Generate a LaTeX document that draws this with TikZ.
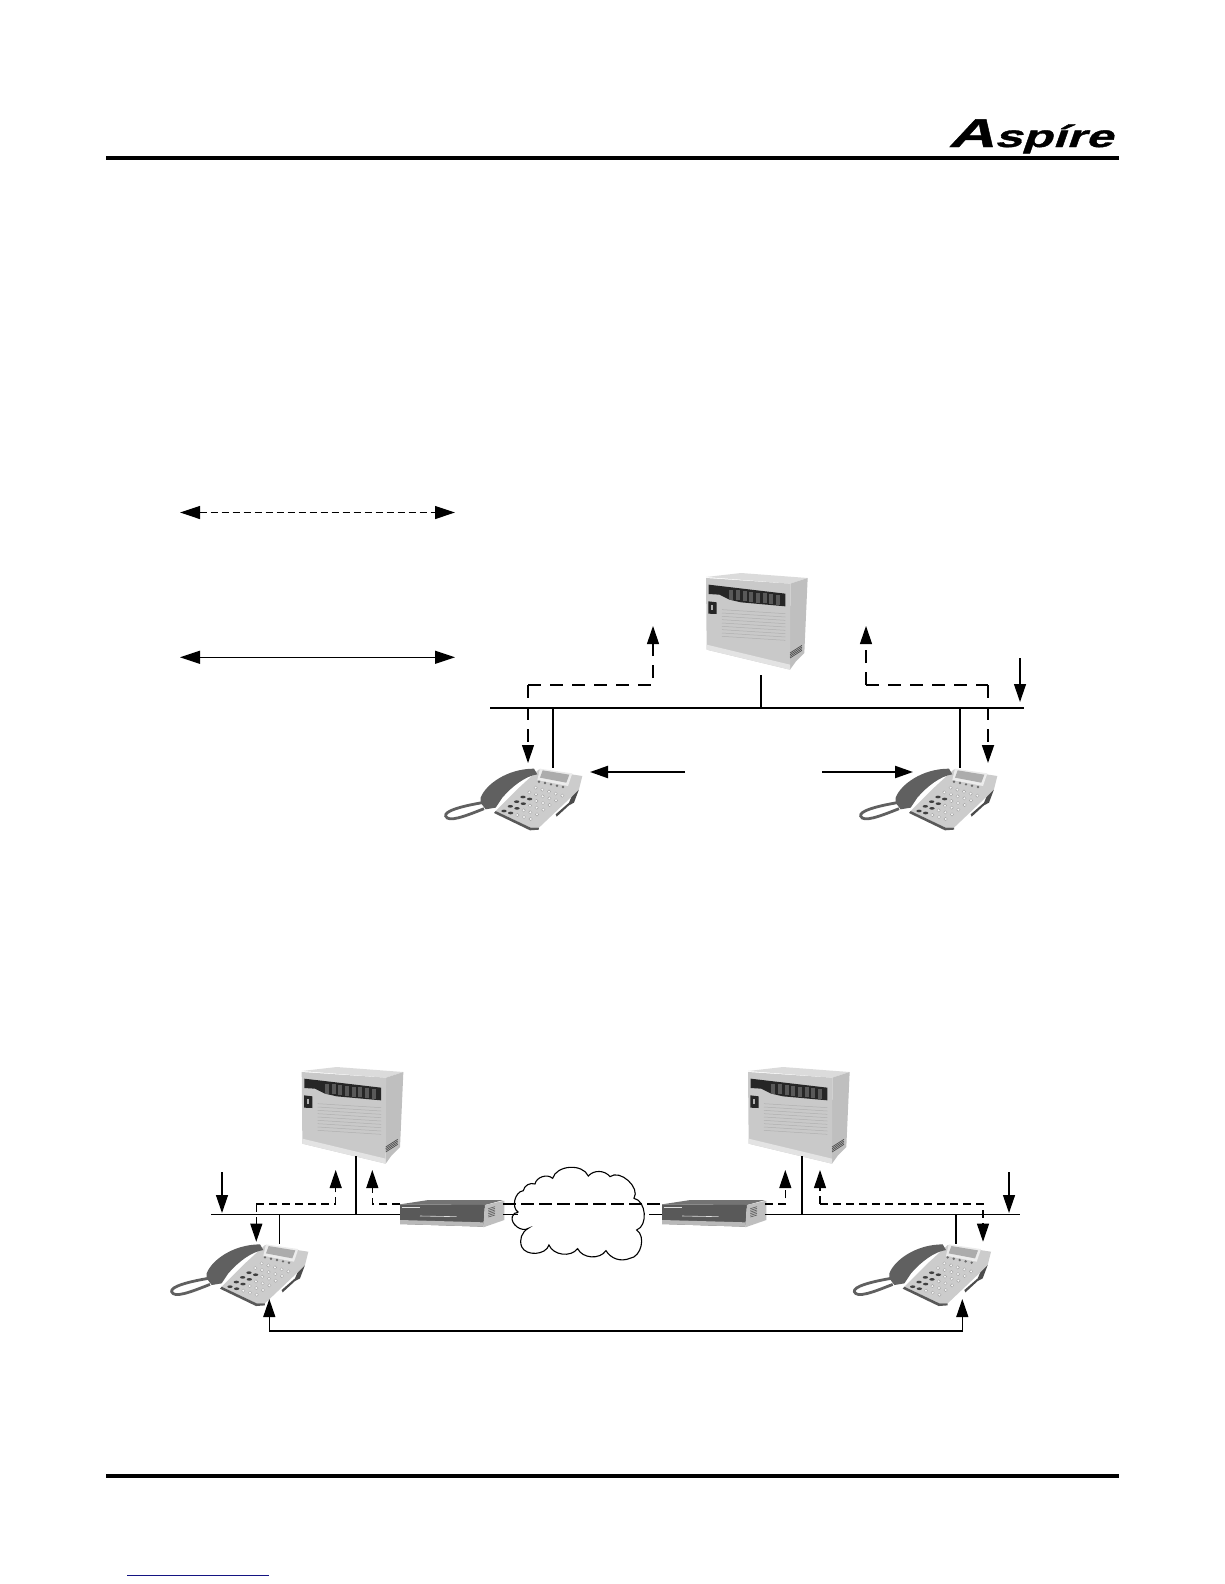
\documentclass[tikz,border=0pt]{standalone}
\usepackage{fontspec}
\setmainfont{Liberation Sans}
\newfontfamily\logofont[FakeStretch=1.6, FakeBold=1.2, FakeSlant=.35]{Liberation Sans}
\usetikzlibrary{arrows.meta}
\usetikzlibrary{positioning}
\definecolor{linkblue}{RGB}{20,20,130}
\tikzset{
  > = {Triangle[length=18pt, width=12pt]},
  bus/.style = {line width = 1.3pt},
  thickbus/.style = {line width = 2.6pt},
  rule/.style = {line width = 4.3pt},
  flow/.style = {->, line width = 1.3pt},
  dashflow/.style = {->, line width = 1.1pt, dash pattern = on 13pt off 9pt},
  dashshort/.style = {->, line width = 1.1pt, dash pattern = on 8pt off 5pt},
  keyarrow/.style = {<->, > = {Triangle[length=20pt, width=13pt]}, line width = 1.2pt},
  cabinet/.pic = {
    \begin{scope}[x=.3333pt, y=-.3333pt]
      \fill [gray!28] (0,12) -- (105,0) -- (305,15) -- (253,32) -- cycle;
      \fill [gray!50] (253,32) -- (305,15) -- (295,240) -- (270,265) -- (252,290) -- cycle;
      \fill [gray!42] (0,15) -- (253,32) -- (252,290) -- (2,230) -- cycle;
      \fill [gray!22] (2,215) -- (252,275) -- (252,290) -- (2,230) -- cycle;
      \foreach \y in {110,120,...,190}
        \draw [gray!62, line width = .5pt] (48,\y) -- (238,\y+12);
      \fill [black!85] (8,35) -- (238,62) -- (238,100) -- (105,88) -- (70,80) -- (40,65) -- (8,63) -- cycle;
      \foreach \x in {70,90,...,225}
        \fill [gray!70!black] (\x,{50+(\x-70)*.11}) rectangle +(12,30);
      \fill [black!85] (7,85) -- (32,88) -- (32,123) -- (7,122) -- cycle;
      \fill [gray!60] (15,97) rectangle (22,110);
      \foreach \d in {0,5,10,15}
        \draw [gray!60!black, line width = .7pt] (252,{255-\d}) -- (288,{232-\d});
    \end{scope}
  },
  telset/.pic = {
    \begin{scope}[x=.3333pt, y=-.3333pt]
      \draw [gray!75!black, line width = 2.8pt] (115,110) .. controls (55,120) and (0,135) .. (5,150)
        .. controls (12,170) and (60,152) .. (120,128);
      \fill [black!70] (335,145) -- (375,110) -- (390,75) -- (405,70) -- (390,110) -- (375,118) -- (338,152) -- cycle;
      \fill [gray!40] (225,65) -- (285,10) -- (415,30) -- (405,70) -- (385,90) -- (285,185) -- (260,185) -- (155,135) -- cycle;
      \fill [gray!70!black] (155,135) -- (260,185) -- (285,185) -- (285,191) -- (258,193) -- (150,141) -- cycle;
      \fill [gray!75!black] (110,95) .. controls (125,55) and (190,8) .. (270,8) -- (280,25)
        .. controls (245,30) and (205,60) .. (175,95) -- (155,125) -- (125,130) -- (110,110) -- cycle;
      \fill [gray!15] (288,8) -- (385,22) -- (372,60) -- (280,42) -- cycle;
      \fill [gray!65] (296,13) -- (376,26) -- (367,50) -- (288,35) -- cycle;
      \foreach \i in {0,...,4}
        \fill [gray!85!black] ({285+18*\i},{47+4*\i}) circle (4);
      \foreach \i in {2,3,4}
        \foreach \j in {0,...,5}
          \fill [gray!5, draw = gray!70, line width = .4pt] ({275+20*\i-19*\j},{65+6*\i+14*\j}) circle (5);
      \foreach \i in {0,1}
        \foreach \j in {0,1}
          \fill [gray!5, draw = gray!70, line width = .4pt] ({275+20*\i-19*\j},{65+6*\i+14*\j}) circle (5);
      \foreach \i in {0,1}
        \foreach \j in {2,...,5}
          \fill [black!75] ({275+20*\i-19*\j},{65+6*\i+14*\j}) ellipse (8 and 4);
    \end{scope}
  },
  gateway/.pic = {
    \begin{scope}[x=.3333pt, y=-.3333pt]
      \fill [gray!90!black] (0,13) -- (85,0) -- (310,0) -- (255,15) -- cycle;
      \fill [gray!70!black] (0,13) -- (255,15) -- (250,80) -- (0,72) -- cycle;
      \fill [gray!55] (0,60) -- (250,67) -- (250,80) -- (0,72) -- cycle;
      \fill [gray!50] (255,15) -- (313,2) -- (313,60) -- (250,82) -- cycle;
      \foreach \y in {26,31,...,51}
        \draw [gray!70!black, line width = .6pt] (265,\y) -- (285,\y-6);
      \draw [gray!25, line width = 1pt] (5,22) -- (60,22);
      \draw [gray!25, line width = .6pt] (60,48) -- (170,50);
    \end{scope}
  }
}
\begin{document}
\begin{tikzpicture}[x=1pt, y=-1pt]
  \useasboundingbox (0,0) rectangle (1224,1584);
  % page furniture
  \coordinate (topl) at (106,157.7);
  \coordinate (topr) at (1119,157.7);
  \coordinate (botl) at (106,1476);
  \coordinate (botr) at (1119,1476);
  \coordinate (linkl) at (127,1575);
  \coordinate (linkr) at (269,1575);
  \draw [rule] (topl) -- (topr);
  \draw [rule] (botl) -- (botr);
  \draw [linkblue, line width = 1pt] (linkl) -- (linkr);
  \node [anchor = base east, inner sep = 0pt] (logo) at (1113,147)
    {\logofont\bfseries\fontsize{40pt}{40pt}\selectfont A\fontsize{31pt}{31pt}\selectfont sp\'ire};
  % legend arrows
  \coordinate (keya) at (180,512.5);
  \coordinate (keyb) at (455,512.5);
  \coordinate (keyc) at (180,657.3);
  \coordinate (keyd) at (455,657.3);
  \draw [keyarrow, dash pattern = on 7pt off 4pt] (keya) -- (keyb);
  \draw [keyarrow] (keyc) -- (keyd);
  % upper nodes
  \coordinate (ktsA) at (706,573);
  \coordinate (telA) at (444,766);
  \coordinate (telB) at (859,766);
  \pic at (ktsA) {cabinet};
  \pic at (telA) {telset};
  \pic at (telB) {telset};
  \coordinate (busAl) at (490,708);
  \coordinate (busAr) at (1024,708);
  \coordinate (stemAt) at (761,675);
  \coordinate (stemAb) at (761,708);
  \coordinate (dropAt) at (553,708);
  \coordinate (dropAb) at (553,768);
  \coordinate (dropBt) at (960,708);
  \coordinate (dropBb) at (960,768);
  \coordinate (pathAe) at (528,763);
  \coordinate (pathAm) at (528,685);
  \coordinate (pathAn) at (653,685);
  \coordinate (pathAs) at (653,626);
  \coordinate (pathBe) at (988,763);
  \coordinate (pathBm) at (988,685);
  \coordinate (pathBn) at (866,685);
  \coordinate (pathBs) at (866,626);
  \coordinate (downAt) at (1020,658);
  \coordinate (downAb) at (1020,702);
  \coordinate (voiceAs) at (685,772);
  \coordinate (voiceAe) at (590,772);
  \coordinate (voiceBs) at (822,772);
  \coordinate (voiceBe) at (913,772);
  % upper paths
  \draw [bus] (busAl) -- (busAr);
  \draw [bus] (stemAt) -- (stemAb);
  \draw [thickbus] (dropAt) -- (dropAb);
  \draw [bus] (dropBt) -- (dropBb);
  \draw [dashflow] (pathAm) -- (pathAe);
  \draw [dashflow] (pathAm) -- (pathAn) -- (pathAs);
  \draw [dashflow] (pathBn) -- (pathBs);
  \draw [dashflow, -] (pathBn) -- (pathBm);
  \draw [dashflow, line width = 1.8pt] (pathBm) -- (pathBe);
  \draw [flow] (downAt) -- (downAb);
  \draw [flow, line width = 2.2pt] (voiceAs) -- (voiceAe);
  \draw [flow, line width = 2.2pt] (voiceBs) -- (voiceBe);
  % lower nodes
  \coordinate (ktsB) at (301.7,1067);
  \coordinate (ktsC) at (748,1067);
  \coordinate (telC) at (170,1241.7);
  \coordinate (telD) at (852.7,1241.7);
  \coordinate (gateA) at (400,1200);
  \coordinate (gateB) at (662,1200);
  \pic at (ktsB) {cabinet};
  \pic at (ktsC) {cabinet};
  \pic at (telC) {telset};
  \pic at (telD) {telset};
  \pic at (gateA) {gateway};
  \pic at (gateB) {gateway};
  \coordinate (busCl) at (211,1214.3);
  \coordinate (busCr) at (400,1214.3);
  \coordinate (busDl) at (765,1214.3);
  \coordinate (busDr) at (1020,1214.3);
  \coordinate (tieAl) at (503,1214.3);
  \coordinate (tieAr) at (518,1214.3);
  \coordinate (tieBl) at (649,1214.3);
  \coordinate (tieBr) at (662,1214.3);
  \coordinate (stemCt) at (356,1156);
  \coordinate (stemCb) at (356,1214.3);
  \coordinate (stemDt) at (802,1156);
  \coordinate (stemDb) at (802,1214.3);
  \coordinate (dropCt) at (279.3,1214.3);
  \coordinate (dropCb) at (279.3,1244);
  \coordinate (dropDt) at (956,1214.3);
  \coordinate (dropDb) at (956,1244);
  \coordinate (downCt) at (222,1172);
  \coordinate (downCb) at (222,1213);
  \coordinate (downDt) at (1009,1172);
  \coordinate (downDb) at (1009,1213);
  \coordinate (pathCe) at (256.3,1241.7);
  \coordinate (pathCm) at (256.3,1204);
  \coordinate (pathCn) at (335.7,1204);
  \coordinate (pathCs) at (335.7,1170);
  \coordinate (pathDs) at (372.3,1170);
  \coordinate (pathDm) at (372.3,1204);
  \coordinate (pathDn) at (400,1204);
  \coordinate (trunkl) at (503,1204);
  \coordinate (trunkr) at (662,1204);
  \coordinate (pathEn) at (765,1204);
  \coordinate (pathEm) at (785.3,1204);
  \coordinate (pathEs) at (785.3,1170);
  \coordinate (pathFs) at (820,1170);
  \coordinate (pathFm) at (820,1204);
  \coordinate (pathFn) at (983,1204);
  \coordinate (pathFe) at (983,1241.7);
  \coordinate (audioA) at (269.3,1299);
  \coordinate (audioB) at (269.3,1331);
  \coordinate (audioC) at (962.3,1331);
  \coordinate (audioD) at (962.3,1299);
  % lower paths
  \draw [bus] (busCl) -- (busCr);
  \draw [bus] (busDl) -- (busDr);
  \draw [bus] (tieAl) -- (tieAr);
  \draw [bus] (tieBl) -- (tieBr);
  \draw [thickbus] (stemCt) -- (stemCb);
  \draw [bus] (stemDt) -- (stemDb);
  \draw [bus] (dropCt) -- (dropCb);
  \draw [bus] (dropDt) -- (dropDb);
  \draw [flow] (downCt) -- (downCb);
  \draw [flow] (downDt) -- (downDb);
  \draw [dashshort] (pathCm) -- (pathCe);
  \draw [dashshort] (pathCm) -- (pathCn) -- (pathCs);
  \draw [dashshort] (pathDn) -- (pathDm) -- (pathDs);
  \draw [bus, dash pattern = on 13pt off 5pt] (trunkl) -- (trunkr);
  \draw [dashshort] (pathEn) -- (pathEm) -- (pathEs);
  \draw [dashshort] (pathFm) -- (pathFs);
  \draw [dashshort] (pathFm) -- (pathFn) -- (pathFe);
  \draw [flow, <->] (audioA) -- (audioB) -- (audioC) -- (audioD);
  % cloud
  \begin{scope}[shift = {(150,1040)}, x=.3333pt, y=-.3333pt]
    \draw [line width = 1.1pt] (1105,517) to [bend left = 70] (1120,452) to [bend left = 50] (1155,432)
      to [bend left = 60] (1208,415) to [bend left = 70] (1315,408) to [bend left = 50] (1380,410)
      to [bend left = 80] (1452,475) to [bend left = 75] (1460,570) to [bend left = 70] (1440,655)
      to [bend left = 40] (1368,632) to [bend left = 60] (1283,626) to [bend left = 60] (1197,615)
      to [bend left = 70] (1115,620) to [bend left = 40] (1135,565) to [bend left = 70] (1087,530)
      to [bend left = 40] (1105,517);
  \end{scope}
\end{tikzpicture}
\end{document}
